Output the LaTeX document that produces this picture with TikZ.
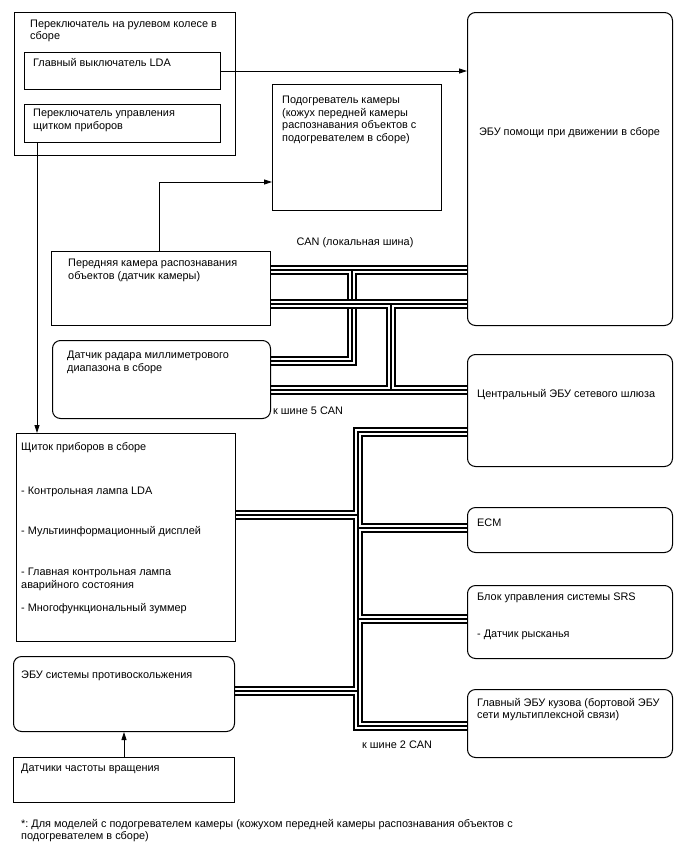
\documentclass[tikz,border=0pt]{standalone}
\usepackage{fontspec}
\setmainfont{Liberation Sans}
\usetikzlibrary{arrows.meta}
\frenchspacing
\newcommand\mkbox[6]{\node[#1,minimum width={#4-#2},minimum height={#5-#3}] (#6) at (#2,#3) {};}
\newcommand\canbus[1]{%
  \begin{scope}[line width=10pt,black]#1\end{scope}%
  \begin{scope}[line width=6.2pt,white]#1\end{scope}%
  \begin{scope}[line width=1.1pt,black]#1\end{scope}}
\begin{document}
\begin{tikzpicture}[x=1pt,y=-1pt,
  every node/.style={font=\fontsize{10.9}{12.6}\selectfont},
  box/.style={draw,line width=1pt,inner sep=0,anchor=north west},
  rbox/.style={box,rounded corners=8pt},
  txt/.style={inner sep=0,anchor=north west,align=left},
  arr/.style={line width=0.8pt,-{Triangle[length=8pt,width=5pt]}}]
\useasboundingbox (0,0) rectangle (688,852);

% ---- CAN bus coordinates
\coordinate (camA) at (270,270); \coordinate (ecuA) at (467,270);
\coordinate (jA) at (352,270);   \coordinate (kA) at (352,361);
\coordinate (radA) at (270,361);
\coordinate (camB) at (270,304); \coordinate (ecuB) at (467,304);
\coordinate (jB) at (391,304);   \coordinate (kB) at (391,390);
\coordinate (radB) at (270,390); \coordinate (gwB) at (467,390);
\coordinate (gw2) at (467,432);  \coordinate (t1) at (358,432);
\coordinate (t2) at (358,726);   \coordinate (body2) at (467,726);
\coordinate (clus2) at (235,515); \coordinate (tc) at (358,515);
\coordinate (ecm2) at (467,528);  \coordinate (te) at (358,528);
\coordinate (srs2) at (467,619);  \coordinate (ts) at (358,619);
\coordinate (abs2) at (234,691);  \coordinate (ta) at (358,691);

\canbus{\draw (camA) -- (ecuA); \draw (jA) -- (kA) -- (radA);}
\canbus{\draw (camB) -- (ecuB); \draw (jB) -- (kB); \draw (radB) -- (gwB);}
\canbus{\draw (gw2) -- (t1) -- (t2) -- (body2); \draw (clus2) -- (tc);
  \draw (te) -- (ecm2); \draw (ts) -- (srs2); \draw (abs2) -- (ta);}

% ---- boxes
\mkbox{box}{14}{12}{235}{155}{sw}
\mkbox{box}{24}{52}{220}{89}{lda}
\mkbox{box}{24}{104}{220}{142}{ics}
\mkbox{box}{272}{84}{441}{210}{heat}
\mkbox{rbox}{467}{12}{672}{325}{ecu}
\mkbox{box}{51}{251}{270}{325}{cam}
\mkbox{rbox}{52}{340}{270}{418}{radar}
\mkbox{rbox}{467}{354}{672}{466}{gw}
\mkbox{box}{16}{433}{235}{641}{clus}
\mkbox{rbox}{467}{507}{672}{552}{ecm}
\mkbox{rbox}{467}{585}{672}{658}{srs}
\mkbox{rbox}{467}{689}{672}{757}{body}
\mkbox{rbox}{13}{656}{234}{731}{abs}
\mkbox{box}{13}{757}{234}{802}{spd}

% ---- texts
\node[txt] (tsw) at (30,19.5) {Переключатель на рулевом колесе в\\сборе};
\node[txt] (tlda) at (33,58) {Главный выключатель LDA};
\node[txt] (tics) at (33,109) {Переключатель управления\\щитком приборов};
\node[txt] (theat) at (282,96) {Подогреватель камеры\\(кожух передней камеры\\распознавания объектов с\\подогревателем в сборе)};
\node (tecu) at (569.5,133) {ЭБУ помощи при движении в сборе};
\node (tcan) at (355,243) {CAN (локальная шина)};
\node[txt] (tcam) at (68,259) {Передняя камера распознавания\\объектов (датчик камеры)};
\node[txt] (trad) at (67,351) {Датчик радара миллиметрового\\диапазона в сборе};
\node[txt] (tb5) at (273,407) {к шине 5 CAN};
\node[txt] (tgw) at (477,389) {Центральный ЭБУ сетевого шлюза};
\node[txt] (cl0) at (21,442) {Щиток приборов в сборе};
\node[txt] (cl1) at (21,487) {- Контрольная лампа LDA};
\node[txt] (cl2) at (21,526) {- Мультиинформационный дисплей};
\node[txt] (cl3) at (21,568) {- Главная контрольная лампа\\аварийного состояния};
\node[txt] (cl4) at (21,603) {- Многофункциональный зуммер};
\node[txt] (tecm) at (477,519) {ECM};
\node[txt] (tsrs) at (477,593) {Блок управления системы SRS};
\node[txt] (tyaw) at (477,630) {- Датчик рысканья};
\node[txt] (tbody) at (477,698) {Главный ЭБУ кузова (бортовой ЭБУ\\сети мультиплексной связи)};
\node[txt] (tabs) at (21,671) {ЭБУ системы противоскольжения};
\node[txt] (tspd) at (21,764) {Датчики частоты вращения};
\node[txt] (tb2) at (362,741) {к шине 2 CAN};
\node[txt] (tfn) at (21,819) {*: Для моделей с подогревателем камеры (кожухом передней камеры распознавания объектов с\\подогревателем в сборе)};

% ---- arrows
\coordinate (icsout) at (37,142);
\coordinate (camtop) at (159,251);
\coordinate (heatin) at (272,182);
\draw[arr] (lda.east) -- (lda.east -| ecu.west);
\draw[arr] (icsout) -- (icsout |- clus.north);
\draw[arr] (camtop) |- (heatin);
\draw[arr] (spd.north) -- (abs.south);
\end{tikzpicture}
\end{document}
